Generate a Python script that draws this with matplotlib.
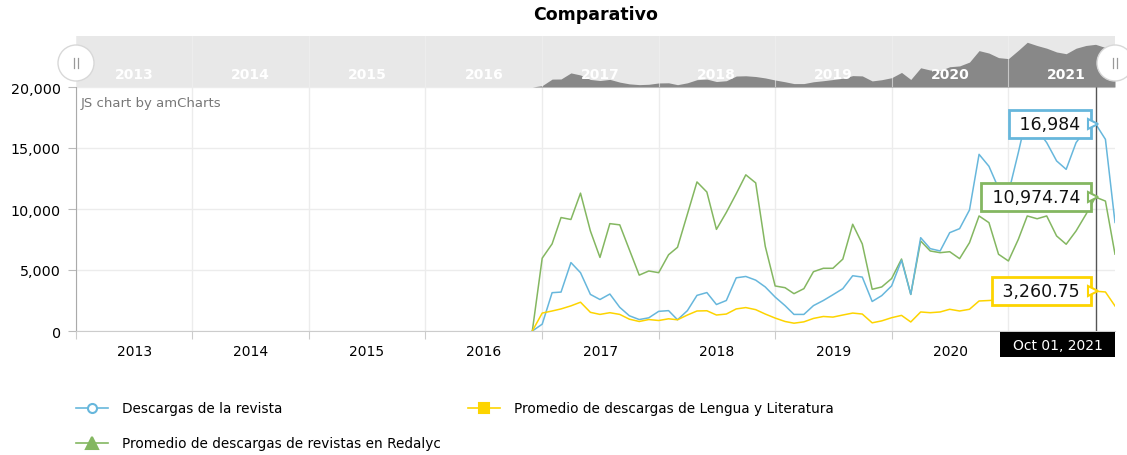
import matplotlib
matplotlib.use('Agg')
import matplotlib.pyplot as plt
import matplotlib.dates as mdates
import pandas as pd
from matplotlib.patches import Circle, Rectangle
from matplotlib.lines import Line2D

# ---------------- data ----------------
start_month = '2016-12-01'
descargas_revista = [0, 560, 3140, 3190, 5610, 4780, 3000, 2580, 3030, 1940, 1250, 940,
                     1080, 1610, 1670, 920, 1670, 2920, 3150, 2170, 2500, 4360, 4470, 4170,
                     3610, 2780, 2080, 1360, 1360, 2080, 2500, 2970, 3470, 4530, 4420, 2420,
                     2900, 3700, 5800, 3000, 7650, 6750, 6560, 8060, 8390, 9920, 14480, 13500,
                     11700, 11300, 14620, 17800, 16500, 15440, 13940, 13250, 15440, 16530, 16984,
                     15710, 8900]
promedio_lengua = [0, 1470, 1640, 1810, 2060, 2360, 1530, 1360, 1500, 1360, 970, 780,
                   940, 860, 1000, 920, 1310, 1640, 1660, 1310, 1390, 1810, 1920, 1750,
                   1390, 1060, 780, 640, 750, 1030, 1190, 1140, 1310, 1470, 1390, 670,
                   830, 1090, 1280, 740, 1560, 1500, 1560, 1780, 1640, 1780, 2460, 2500,
                   2550, 2600, 2700, 2750, 2700, 2650, 2750, 2900, 2950, 3050, 3260.75,
                   3200, 2050]
promedio_redalyc = [0, 5970, 7140, 9300, 9140, 11300, 8200, 6030, 8800, 8700, 6670, 4580,
                    4920, 4780, 6250, 6860, 9580, 12220, 11390, 8330, 9720, 11250, 12800, 12140,
                    6940, 3690, 3550, 3060, 3470, 4860, 5140, 5140, 5890, 8750, 7140, 3420,
                    3610, 4300, 5900, 3000, 7380, 6560, 6420, 6500, 5930, 7240, 9430, 8880,
                    6290, 5740, 7510, 9430, 9200, 9430, 7790, 7110, 8200, 9560, 10974.74,
                    10650, 6300]
series_names = ['Descargas de la revista',
                'Promedio de descargas de Lengua y Literatura',
                'Promedio de descargas de revistas en Redalyc']
title = 'Comparativo'
cursor_date = '2021-10-01'
years = list(range(2013, 2022))
axis_years = list(range(2013, 2021))
y_ticks = [0, 5000, 10000, 15000, 20000]

# ---------------- style ----------------
C_BLUE = '#67b7dc'
C_YEL = '#fdd400'
C_GRN = '#84b761'

W, H = 1127, 456
def fx(px): return px / W
def fy(py): return 1 - py / H

dates = pd.date_range(start_month, periods=len(descargas_revista), freq='MS')
xmin = mdates.date2num(pd.Timestamp(f'{years[0]}-01-01'))
xmax = mdates.date2num(dates[-1])
year_starts = [mdates.date2num(pd.Timestamp(f'{y}-01-01')) for y in years]
year_mids = [mdates.date2num(pd.Timestamp(f'{y}-07-02')) for y in years]
axis_mids = [mdates.date2num(pd.Timestamp(f'{y}-07-02')) for y in axis_years]

fig = plt.figure(figsize=(W / 100, H / 100), dpi=100)
fig.patch.set_facecolor('white')

L, R, T, B = 76, 1115, 88, 332
ax = fig.add_axes([fx(L), fy(B), (R - L) / W, (B - T) / H])
ax.set_xlim(xmin, xmax)
ax.set_ylim(0, 20000)
for vals, col in [(promedio_redalyc, C_GRN), (descargas_revista, C_BLUE), (promedio_lengua, C_YEL)]:
    ax.plot(mdates.date2num(dates), vals, color=col, lw=1.1, zorder=3)

ax.set_yticks(y_ticks)
ax.set_yticklabels([f'{v:,}' for v in y_ticks])
ax.set_xticks(year_starts)
ax.set_xticklabels([''] * len(year_starts))
ax.set_xticks(axis_mids, minor=True)
ax.set_xticklabels([str(y) for y in axis_years], minor=True)
ax.tick_params(axis='x', which='major', length=6, color='#cccccc')
ax.tick_params(axis='x', which='minor', length=0, pad=9, labelsize=10, labelcolor='#000000')
ax.tick_params(axis='y', length=6, color='#bbbbbb', labelsize=10.3, labelcolor='#000000', pad=5)
ax.grid(True, which='major', color='#ececec', lw=1)
for s in ['top', 'right']:
    ax.spines[s].set_visible(False)
ax.spines['left'].set_color('#aaaaaa')
ax.spines['bottom'].set_color('#cccccc')

cx = mdates.date2num(pd.Timestamp(cursor_date))
ax.axvline(cx, color='#555555', lw=1, zorder=4)

# ---------------- navigator ----------------
nav = fig.add_axes([fx(L), fy(T), (R - L) / W, (T - 37) / H])
nav.set_facecolor('#e8e8e8')
nav.set_xlim(xmin, xmax)
nav.set_ylim(0, 20300)
nav.fill_between(mdates.date2num(dates), descargas_revista, 0, color='#888888', lw=0)
for xs in year_starts:
    nav.axvline(xs, color='#f2f2f2', lw=0.8, alpha=0.6)
for xm, y in zip(year_mids, years):
    nav.text(xm, 0.25, str(y), transform=nav.get_xaxis_transform(), color='white',
             fontsize=10, fontweight='semibold', ha='center', va='center')
nav.set_xticks([]); nav.set_yticks([])
for s in nav.spines.values():
    s.set_visible(False)

# ---------------- overlay ----------------
ov = fig.add_axes([0, 0, 1, 1], zorder=20)
ov.set_xlim(0, W)
ov.set_ylim(H, 0)
ov.axis('off')
ov.patch.set_alpha(0)

ov.text(596, 15, title, fontsize=12.5, fontweight='bold', ha='center', va='center', color='#000')
ov.text(81, 104, 'JS chart by amCharts', fontsize=9.5, color='#777777', ha='left', va='center')

# handles
for hx in (L, R):
    ov.add_patch(Circle((hx, 64), 18, facecolor='white', edgecolor='#d8d8d8', lw=1, zorder=30))
    for dx in (-2, 2):
        ov.plot([hx + dx, hx + dx], [59, 69], color='#999999', lw=0.9, zorder=31)

# balloons
def to_ov(xv, yv):
    dx, dy = ax.transData.transform((xv, yv))
    return dx, H - dy

k = list(dates).index(pd.Timestamp(cursor_date))
for vals, col, txt in [(descargas_revista, C_BLUE, '{:,.0f}'),
                       (promedio_redalyc, C_GRN, '{:,.2f}'),
                       (promedio_lengua, C_YEL, '{:,.2f}')]:
    v = vals[k]
    px, py = to_ov(cx, v)
    label = txt.format(v)
    ov.text(px - 10, py, ' ' + label + ' ', fontsize=12.5, ha='right', va='center', color='#111111',
            bbox=dict(boxstyle='square,pad=0.3', fc='white', ec=col, lw=2), zorder=25)
    ov.plot([px - 3], [py], marker='>', ms=7, mfc='white', mec=col, mew=1.5, zorder=26)

# date box
ov.add_patch(Rectangle((1000, 333), 115, 25, facecolor='black', edgecolor='none', zorder=25))
ov.text(1057.5, 346, pd.Timestamp(cursor_date).strftime('%b %d, %Y'), color='white',
        fontsize=10, ha='center', va='center', zorder=26)

# legend
leg = [(76, 409, C_BLUE, 'o', 6.5, 'white', series_names[0]),
       (468, 409, C_YEL, 's', 7, C_YEL, series_names[1]),
       (76, 444, C_GRN, '^', 8, C_GRN, series_names[2])]
for lx, ly, col, mk, ms, mfc, name in leg:
    ov.add_line(Line2D([lx, lx + 32], [ly, ly], color=col, lw=1.2))
    ov.add_line(Line2D([lx + 16], [ly], marker=mk, ms=ms, mfc=mfc, mec=col, mew=1.5, color=col))
    ov.text(lx + 46, ly, name, fontsize=9.8, color='#000000', ha='left', va='center')

fig.savefig('out.png', dpi=100, facecolor='white')
